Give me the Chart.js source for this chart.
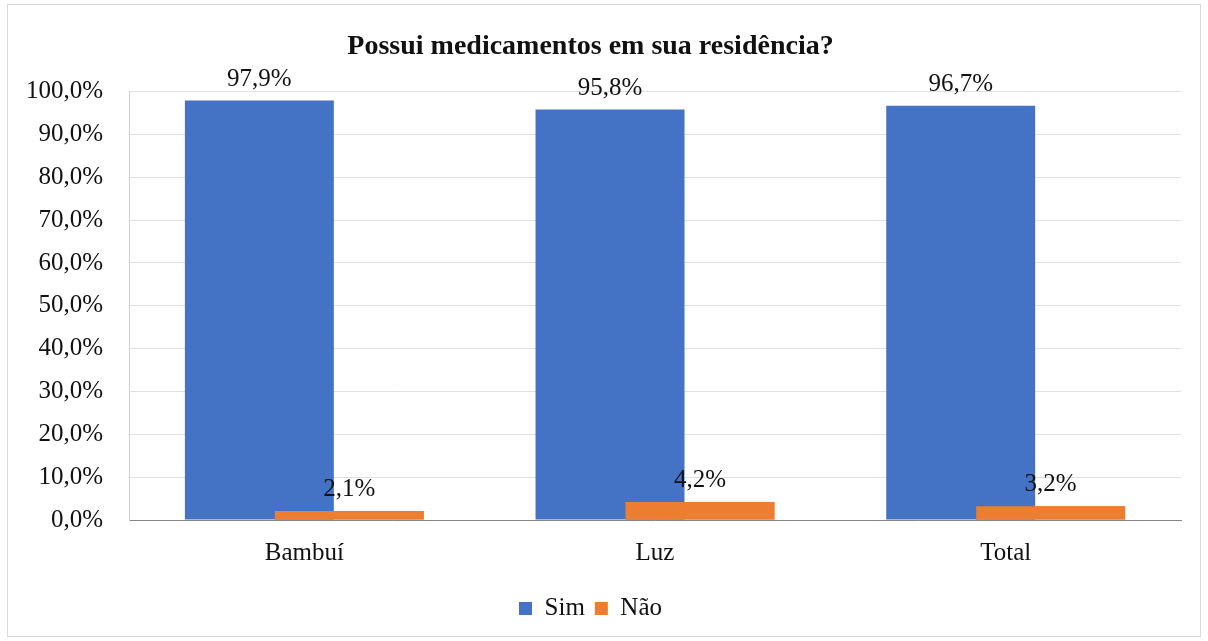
<!DOCTYPE html>
<html>
<head>
<meta charset="utf-8">
<script src="https://cdn.jsdelivr.net/npm/chart.js@4/dist/chart.umd.min.js"></script>
<style>
  html, body { margin: 0; padding: 0; background: #fff; }
  #box { position: relative; width: 1208px; height: 641px; }
</style>
</head>
<body>
<div id="box"><canvas id="grafico"></canvas></div>
<script>
const categorias = ["Bambuí", "Luz", "Total"];
const valoresSim = [97.9, 95.8, 96.7];
const valoresNao = [2.1, 4.2, 3.2];
const ticksY = [0, 10, 20, 30, 40, 50, 60, 70, 80, 90, 100];

const fonte = "'Liberation Serif', 'Times New Roman', serif";
const fmt = v => v.toFixed(1).replace(".", ",") + "%";
Chart.defaults.font.family = fonte;

// barras laranja por cima das azuis + rotulos
const rotulos = {
  id: "rotulos",
  afterDatasetsDraw(chart) {
    const ctx = chart.ctx;
    chart.getDatasetMeta(1).data.forEach(el => el.draw(ctx));
    ctx.save();
    ctx.font = "25px " + fonte;
    ctx.fillStyle = "#111";
    ctx.textAlign = "center";
    ctx.textBaseline = "alphabetic";
    chart.data.datasets.forEach((ds, i) => {
      chart.getDatasetMeta(i).data.forEach((el, j) => {
        ctx.fillText(fmt(ds.data[j]), el.x, el.y - 15);
      });
    });
    ctx.restore();
  }
};

// moldura cinza em volta do grafico
const moldura = {
  id: "moldura",
  beforeDraw(chart) {
    const ctx = chart.ctx;
    ctx.save();
    ctx.fillStyle = "#fff";
    ctx.fillRect(0, 0, chart.width, chart.height);
    ctx.strokeStyle = "#d9d9d9";
    ctx.lineWidth = 1;
    ctx.strokeRect(7.5, 4.5, 1193, 632);
    ctx.restore();
  }
};

const ctx = document.getElementById("grafico").getContext("2d");
new Chart(ctx, {
  type: "bar",
  data: {
    labels: categorias,
    datasets: [
      { label: "Sim", data: valoresSim, backgroundColor: "#4472C4" },
      { label: "Não", data: valoresNao, backgroundColor: "#ED7D31" }
    ]
  },
  options: {
    responsive: true,
    maintainAspectRatio: false,
    animation: false,
    categoryPercentage: 0.513,
    barPercentage: 1.656,
    layout: { padding: { left: 0, right: 27, top: 0, bottom: 10 } },
    scales: {
      x: {
        grid: { display: false, drawTicks: false },
        border: { color: "#868686", width: 1 },
        ticks: { color: "#111", font: { family: fonte, size: 25 }, padding: 18 }
      },
      y: {
        min: 0,
        max: 100,
        afterBuildTicks: scale => { scale.ticks = ticksY.map(v => ({ value: v })); },
        afterFit: scale => { scale.width = 129; },
        grid: { color: "#e0e0e0", drawTicks: false },
        border: { color: "#d0d0d0", width: 1 },
        ticks: { color: "#111", font: { family: fonte, size: 25 }, padding: 26, callback: v => fmt(v) }
      }
    },
    plugins: {
      title: {
        display: true,
        text: "Possui medicamentos em sua residência?",
        color: "#111",
        font: { family: fonte, size: 28, weight: "bold" },
        padding: { top: 30, bottom: 28 }
      },
      legend: {
        position: "bottom",
        labels: {
          color: "#111",
          font: { family: fonte, size: 25 },
          boxWidth: 13,
          boxHeight: 13,
          padding: 10
        }
      },
      tooltip: { enabled: false }
    }
  },
  plugins: [moldura, rotulos]
});
</script>
</body>
</html>
